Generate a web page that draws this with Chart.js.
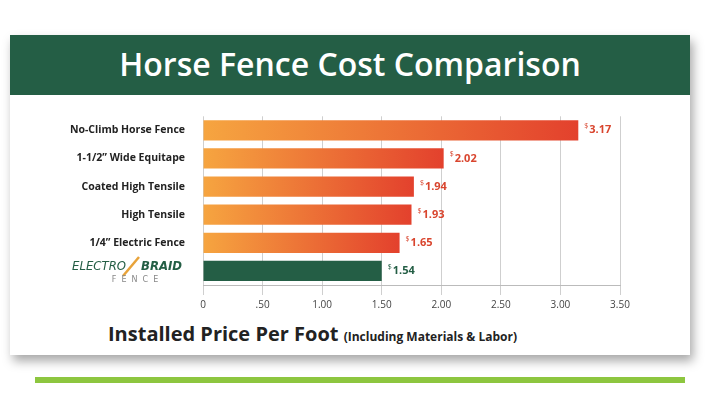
<!DOCTYPE html>
<html>
<head>
<meta charset="utf-8">
<script src="https://cdn.jsdelivr.net/npm/chart.js@4"></script>
<style>
  body { margin: 0; background: #fff; width: 720px; height: 404px; position: relative; overflow: hidden; font-family: "Open Sans", sans-serif; }
  .card { position: absolute; left: 10px; top: 35px; width: 680px; height: 320px; background: #fff; box-shadow: 3px 6px 10px rgba(0,0,0,0.35); }
  .head { position: absolute; left: 10px; top: 35px; width: 680px; height: 60px; background: #245e45; color: #fff; font-size: 32px; font-weight: 600; text-align: center; line-height: 58px; }
  .xtitle { position: absolute; left: 108px; top: 320px; font-size: 20px; font-weight: 700; color: #222; white-space: nowrap; }
  .xtitle span { font-size: 12px; }
  .rule { position: absolute; left: 35px; top: 377px; width: 650px; height: 6px; background: #8dc63f; }
  #wrap { position: absolute; left: 10px; top: 100px; width: 680px; height: 215px; }
</style>
</head>
<body>
<div class="card"></div>
<div class="head">Horse Fence Cost Comparison</div>
<div id="wrap"><canvas id="chart"></canvas></div>
<div class="xtitle">Installed Price Per Foot <span>(Including Materials &amp; Labor)</span></div>
<div class="rule"></div>
<script>
const categories = ["No-Climb Horse Fence", "1-1/2\u201D Wide Equitape", "Coated High Tensile", "High Tensile", "1/4\u201D Electric Fence", "Electrobraid Fence"];
// bar lengths as drawn in the picture
const barLengths = [3.15, 2.02, 1.77, 1.75, 1.65, 1.50];
// printed price labels
const priceLabels = ["3.17", "2.02", "1.94", "1.93", "1.65", "1.54"];
const tickValues = [0, 0.5, 1, 1.5, 2, 2.5, 3, 3.5];
const tickLabels = ["0", ".50", "1.00", "1.50", "2.00", "2.50", "3.00", "3.50"];

const last = categories.length - 1;

const decorations = {
    id: 'decorations',
    afterDatasetsDraw(chart) {
        const ctx = chart.ctx;
        const meta = chart.getDatasetMeta(0);
        ctx.save();
        meta.data.forEach((bar, i) => {
            const col = i === last ? '#245e45' : '#d9452e';
            ctx.fillStyle = col;
            ctx.textBaseline = 'middle';
            ctx.font = '7px "Open Sans"';
            ctx.fillText('$', bar.x + 6, bar.y - 4);
            ctx.font = 'bold 11px "Open Sans"';
            ctx.fillText(priceLabels[i], bar.x + 11, bar.y);
        });
        // electrobraid logo label
        const y = chart.scales.y.getPixelForValue(last);
        ctx.textAlign = 'right';
        ctx.font = 'italic 13px "DejaVu Sans Condensed"';
        ctx.fillStyle = '#245e45';
        ctx.fillText('ELECTRO', 116, y - 4);
        ctx.font = 'italic bold 13px "DejaVu Sans Condensed"';
        ctx.fillText('BRAID', 172, y - 4);
        ctx.strokeStyle = '#e8a33a';
        ctx.lineWidth = 2.5;
        ctx.beginPath();
        ctx.moveTo(113, y + 5);
        ctx.lineTo(129, y - 14);
        ctx.stroke();
        ctx.font = '8px "DejaVu Sans"';
        ctx.fillStyle = '#888';
        ctx.textAlign = 'center';
        ctx.fillText('F  E  N  C  E', 125, y + 9);
        ctx.restore();
    }
};

new Chart(document.getElementById('chart'), {
    type: 'bar',
    data: {
        labels: categories,
        datasets: [{
            data: barLengths,
            barPercentage: 0.72,
            categoryPercentage: 1,
            backgroundColor(context) {
                if (context.dataIndex === last) return '#245e45';
                const chart = context.chart;
                if (!chart.chartArea) return '#ee7a35';
                const x = chart.scales.x;
                const x0 = x.getPixelForValue(0);
                const x1 = x.getPixelForValue(barLengths[context.dataIndex]);
                const g = chart.ctx.createLinearGradient(x0, 0, x1, 0);
                g.addColorStop(0, '#f6a540');
                g.addColorStop(1, '#e3412d');
                return g;
            }
        }]
    },
    options: {
        indexAxis: 'y',
        responsive: true,
        maintainAspectRatio: false,
        animation: false,
        layout: { padding: { right: 70, top: 2 } },
        plugins: { legend: { display: false }, tooltip: { enabled: false } },
        scales: {
            x: {
                min: 0, max: 3.5,
                afterBuildTicks(scale) { scale.ticks = tickValues.map(v => ({ value: v })); },
                ticks: {
                    color: '#444',
                    font: { size: 10, family: 'Open Sans' },
                    padding: 4,
                    callback: (v, i) => tickLabels[i]
                },
                grid: { color: '#cfcfcf', drawTicks: true, tickLength: 10 },
                border: { color: '#bbb' }
            },
            y: {
                afterFit(scale) { scale.width = 193; },
                ticks: {
                    color: '#222',
                    font: { size: 10.5, weight: 'bold', family: 'Open Sans' },
                    padding: 10,
                    callback: (v, i) => i === last ? '' : categories[i]
                },
                grid: { display: false },
                border: { display: false }
            }
        }
    },
    plugins: [decorations]
});
</script>
</body>
</html>
